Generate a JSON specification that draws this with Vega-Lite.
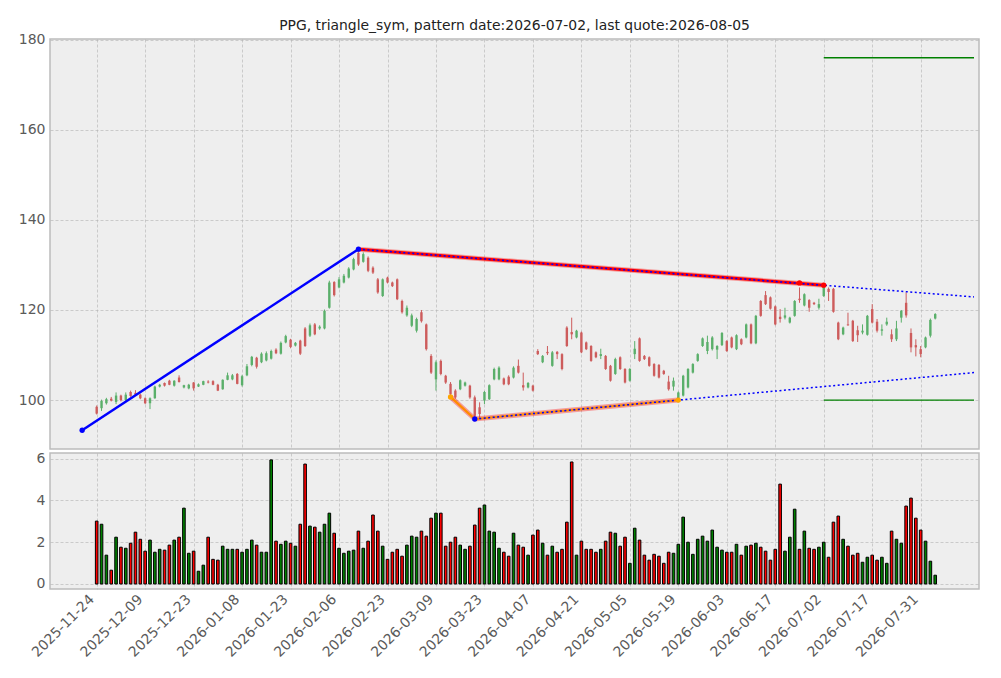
{
  "$schema": "https://vega.github.io/schema/vega-lite/v6.json",
  "background": "white",
  "padding": {"left": 17, "top": 18, "right": 15, "bottom": 5},
  "config": {
    "font": "DejaVu Sans",
    "view": {"fill": "#eeeeee", "stroke": "#bcbcbc", "strokeWidth": 1.5},
    "axis": {
      "labelFont": "DejaVu Sans",
      "labelFontSize": 14,
      "labelColor": "#5a5a5a",
      "ticks": false,
      "domain": false,
      "gridColor": "#b2b2b2",
      "gridDash": [3, 2],
      "gridWidth": 0.6,
      "labelPadding": 5,
      "labelFlush": false,
      "labelOverlap": false
    },
    "concat": {"spacing": 0}
  },
  "datasets": {
    "candles": [
      {"i":0,"open":98.5,"high":98.8,"low":96.8,"close":97.0,"volume":3.01},
      {"i":1,"open":98.2,"high":100.1,"low":97.6,"close":99.8,"volume":2.86},
      {"i":2,"open":99.3,"high":100.5,"low":99.0,"close":100.2,"volume":1.38},
      {"i":3,"open":100.3,"high":100.7,"low":99.7,"close":99.9,"volume":0.66},
      {"i":4,"open":99.6,"high":101.7,"low":99.1,"close":101.0,"volume":2.24},
      {"i":5,"open":101.0,"high":101.2,"low":99.7,"close":100.0,"volume":1.76},
      {"i":6,"open":100.0,"high":101.7,"low":99.8,"close":101.2,"volume":1.71},
      {"i":7,"open":101.8,"high":102.1,"low":100.7,"close":100.9,"volume":1.95},
      {"i":8,"open":101.6,"high":102.2,"low":101.0,"close":101.2,"volume":2.48},
      {"i":9,"open":101.2,"high":101.4,"low":100.2,"close":100.4,"volume":2.14},
      {"i":10,"open":100.4,"high":100.6,"low":99.1,"close":99.3,"volume":1.57},
      {"i":11,"open":99.3,"high":100.6,"low":98.0,"close":100.4,"volume":2.10},
      {"i":12,"open":100.4,"high":103.2,"low":100.3,"close":103.0,"volume":1.52},
      {"i":13,"open":103.0,"high":103.6,"low":102.8,"close":103.4,"volume":1.66},
      {"i":14,"open":103.8,"high":103.9,"low":103.0,"close":103.2,"volume":1.62},
      {"i":15,"open":104.3,"high":104.5,"low":103.3,"close":103.4,"volume":1.86},
      {"i":16,"open":103.2,"high":104.4,"low":103.0,"close":104.3,"volume":2.10},
      {"i":17,"open":105.0,"high":105.5,"low":103.9,"close":104.0,"volume":2.24},
      {"i":18,"open":102.8,"high":103.4,"low":102.6,"close":103.3,"volume":3.63},
      {"i":19,"open":102.6,"high":103.6,"low":102.4,"close":103.4,"volume":1.47},
      {"i":20,"open":103.9,"high":104.0,"low":102.1,"close":102.6,"volume":1.57},
      {"i":21,"open":103.0,"high":103.7,"low":102.9,"close":103.5,"volume":0.61},
      {"i":22,"open":103.4,"high":104.3,"low":103.3,"close":104.2,"volume":0.90},
      {"i":23,"open":104.1,"high":104.4,"low":103.7,"close":103.9,"volume":2.24},
      {"i":24,"open":104.2,"high":104.4,"low":103.3,"close":103.4,"volume":1.18},
      {"i":25,"open":103.4,"high":103.6,"low":102.0,"close":102.1,"volume":1.14},
      {"i":26,"open":102.4,"high":104.6,"low":102.3,"close":104.5,"volume":1.81},
      {"i":27,"open":104.5,"high":106.1,"low":104.4,"close":105.5,"volume":1.66},
      {"i":28,"open":104.6,"high":105.8,"low":104.4,"close":105.5,"volume":1.66},
      {"i":29,"open":105.8,"high":106.0,"low":103.5,"close":103.6,"volume":1.66},
      {"i":30,"open":103.3,"high":105.6,"low":103.0,"close":105.3,"volume":1.52},
      {"i":31,"open":105.5,"high":108.0,"low":105.3,"close":107.5,"volume":1.66},
      {"i":32,"open":107.8,"high":109.8,"low":107.5,"close":109.6,"volume":2.10},
      {"i":33,"open":109.4,"high":109.6,"low":107.0,"close":107.4,"volume":1.86},
      {"i":34,"open":108.4,"high":110.6,"low":108.2,"close":110.3,"volume":1.52},
      {"i":35,"open":108.8,"high":110.8,"low":108.6,"close":110.4,"volume":1.52},
      {"i":36,"open":109.2,"high":111.2,"low":109.0,"close":110.9,"volume":5.94},
      {"i":37,"open":111.2,"high":111.5,"low":110.2,"close":110.4,"volume":2.05},
      {"i":38,"open":110.3,"high":113.0,"low":110.1,"close":112.7,"volume":1.90},
      {"i":39,"open":112.8,"high":114.5,"low":112.6,"close":114.2,"volume":2.05},
      {"i":40,"open":113.4,"high":113.6,"low":111.5,"close":111.8,"volume":1.95},
      {"i":41,"open":112.1,"high":112.9,"low":111.9,"close":112.7,"volume":1.81},
      {"i":42,"open":113.2,"high":113.4,"low":110.0,"close":110.3,"volume":2.86},
      {"i":43,"open":115.9,"high":116.2,"low":111.8,"close":112.0,"volume":5.74},
      {"i":44,"open":114.3,"high":117.0,"low":114.0,"close":116.6,"volume":2.77},
      {"i":45,"open":116.8,"high":117.1,"low":114.4,"close":114.6,"volume":2.72},
      {"i":46,"open":115.9,"high":116.6,"low":115.6,"close":116.3,"volume":2.48},
      {"i":47,"open":115.9,"high":120.1,"low":115.7,"close":119.8,"volume":2.86},
      {"i":48,"open":120.5,"high":126.5,"low":120.3,"close":126.1,"volume":3.39},
      {"i":49,"open":126.2,"high":126.4,"low":123.0,"close":123.3,"volume":2.43},
      {"i":50,"open":125.0,"high":127.3,"low":124.8,"close":126.8,"volume":1.71},
      {"i":51,"open":126.1,"high":128.0,"low":125.9,"close":127.6,"volume":1.47},
      {"i":52,"open":127.2,"high":129.5,"low":127.0,"close":129.2,"volume":1.57},
      {"i":53,"open":129.0,"high":131.6,"low":128.8,"close":131.3,"volume":1.62},
      {"i":54,"open":132.7,"high":133.5,"low":129.8,"close":130.1,"volume":2.53},
      {"i":55,"open":130.7,"high":132.8,"low":130.5,"close":132.4,"volume":1.71},
      {"i":56,"open":131.6,"high":131.9,"low":128.4,"close":128.7,"volume":2.05},
      {"i":57,"open":129.4,"high":129.7,"low":128.0,"close":128.3,"volume":3.30},
      {"i":58,"open":126.8,"high":127.1,"low":123.6,"close":123.9,"volume":2.53},
      {"i":59,"open":123.1,"high":127.0,"low":122.9,"close":126.8,"volume":1.81},
      {"i":60,"open":127.2,"high":127.4,"low":125.9,"close":126.1,"volume":1.18},
      {"i":61,"open":126.1,"high":126.3,"low":125.1,"close":125.3,"volume":1.52},
      {"i":62,"open":126.8,"high":127.0,"low":122.2,"close":122.4,"volume":1.66},
      {"i":63,"open":122.0,"high":122.3,"low":119.2,"close":119.5,"volume":1.33},
      {"i":64,"open":118.8,"high":121.0,"low":118.5,"close":120.5,"volume":1.86},
      {"i":65,"open":116.5,"high":119.2,"low":116.2,"close":118.8,"volume":2.29},
      {"i":66,"open":115.4,"high":118.3,"low":115.0,"close":118.0,"volume":2.24},
      {"i":67,"open":119.5,"high":120.0,"low":117.2,"close":117.5,"volume":2.53},
      {"i":68,"open":116.8,"high":117.0,"low":111.0,"close":111.3,"volume":2.29},
      {"i":69,"open":109.8,"high":110.2,"low":105.8,"close":106.1,"volume":3.15},
      {"i":70,"open":104.6,"high":108.8,"low":102.1,"close":108.4,"volume":3.39},
      {"i":71,"open":108.7,"high":109.0,"low":105.5,"close":105.8,"volume":3.39},
      {"i":72,"open":105.4,"high":105.6,"low":103.6,"close":103.9,"volume":1.81},
      {"i":73,"open":103.6,"high":104.0,"low":101.0,"close":101.3,"volume":2.00},
      {"i":74,"open":102.1,"high":102.4,"low":100.3,"close":100.6,"volume":2.24},
      {"i":75,"open":102.4,"high":104.6,"low":102.2,"close":104.4,"volume":1.86},
      {"i":76,"open":103.2,"high":104.1,"low":103.0,"close":103.9,"volume":1.66},
      {"i":77,"open":103.2,"high":103.4,"low":100.3,"close":100.6,"volume":1.81},
      {"i":78,"open":100.6,"high":101.0,"low":95.8,"close":96.5,"volume":2.82},
      {"i":79,"open":98.4,"high":99.5,"low":95.9,"close":96.9,"volume":3.63},
      {"i":80,"open":99.9,"high":102.0,"low":99.1,"close":101.8,"volume":3.78},
      {"i":81,"open":100.2,"high":103.5,"low":100.0,"close":103.3,"volume":2.53},
      {"i":82,"open":104.6,"high":107.2,"low":104.4,"close":106.9,"volume":2.48},
      {"i":83,"open":104.6,"high":107.5,"low":104.4,"close":107.2,"volume":1.71},
      {"i":84,"open":104.8,"high":105.0,"low":103.3,"close":103.5,"volume":1.52},
      {"i":85,"open":105.2,"high":105.5,"low":103.3,"close":103.5,"volume":1.33},
      {"i":86,"open":105.0,"high":107.5,"low":104.8,"close":107.2,"volume":2.43},
      {"i":87,"open":107.6,"high":109.0,"low":105.9,"close":106.1,"volume":1.86},
      {"i":88,"open":103.3,"high":106.1,"low":102.1,"close":102.8,"volume":1.76},
      {"i":89,"open":102.8,"high":104.0,"low":102.6,"close":103.8,"volume":1.38},
      {"i":90,"open":103.2,"high":103.4,"low":101.9,"close":102.1,"volume":2.34},
      {"i":91,"open":110.9,"high":111.3,"low":110.0,"close":110.2,"volume":2.58},
      {"i":92,"open":108.4,"high":110.0,"low":108.2,"close":109.8,"volume":1.95},
      {"i":93,"open":110.7,"high":112.0,"low":110.0,"close":110.4,"volume":1.38},
      {"i":94,"open":107.6,"high":110.9,"low":107.4,"close":110.6,"volume":1.81},
      {"i":95,"open":110.7,"high":110.9,"low":109.1,"close":110.2,"volume":1.52},
      {"i":96,"open":110.2,"high":110.4,"low":106.6,"close":106.9,"volume":1.66},
      {"i":97,"open":116.1,"high":116.4,"low":111.8,"close":112.0,"volume":2.96},
      {"i":98,"open":115.1,"high":118.3,"low":113.5,"close":114.6,"volume":5.84},
      {"i":99,"open":113.9,"high":115.6,"low":113.7,"close":115.4,"volume":1.38},
      {"i":100,"open":115.0,"high":115.2,"low":110.4,"close":110.6,"volume":2.05},
      {"i":101,"open":112.8,"high":113.0,"low":111.1,"close":111.3,"volume":1.66},
      {"i":102,"open":112.0,"high":112.2,"low":108.5,"close":108.7,"volume":1.66},
      {"i":103,"open":110.6,"high":110.8,"low":109.3,"close":109.5,"volume":1.52},
      {"i":104,"open":109.8,"high":111.4,"low":109.1,"close":110.2,"volume":1.66},
      {"i":105,"open":109.8,"high":110.0,"low":106.7,"close":106.9,"volume":2.05},
      {"i":106,"open":107.6,"high":107.8,"low":104.1,"close":104.3,"volume":2.48},
      {"i":107,"open":105.8,"high":109.4,"low":105.6,"close":109.1,"volume":2.43},
      {"i":108,"open":109.5,"high":109.7,"low":106.7,"close":106.9,"volume":1.81},
      {"i":109,"open":106.9,"high":107.1,"low":103.7,"close":103.9,"volume":2.24},
      {"i":110,"open":104.3,"high":107.1,"low":104.1,"close":106.9,"volume":0.99},
      {"i":111,"open":110.2,"high":113.1,"low":109.1,"close":111.4,"volume":2.67},
      {"i":112,"open":113.7,"high":113.9,"low":108.5,"close":108.7,"volume":2.10},
      {"i":113,"open":109.8,"high":110.0,"low":108.9,"close":109.1,"volume":1.38},
      {"i":114,"open":109.5,"high":109.7,"low":107.4,"close":107.6,"volume":1.14},
      {"i":115,"open":108.0,"high":108.2,"low":105.2,"close":105.4,"volume":1.42},
      {"i":116,"open":107.8,"high":108.0,"low":104.8,"close":105.0,"volume":1.33},
      {"i":117,"open":106.5,"high":106.7,"low":105.6,"close":105.8,"volume":0.99},
      {"i":118,"open":104.1,"high":105.4,"low":102.1,"close":102.4,"volume":1.52},
      {"i":119,"open":103.0,"high":105.0,"low":102.1,"close":104.3,"volume":1.47},
      {"i":120,"open":100.2,"high":101.9,"low":99.9,"close":101.7,"volume":1.90},
      {"i":121,"open":101.0,"high":105.6,"low":100.8,"close":105.4,"volume":3.20},
      {"i":122,"open":102.8,"high":107.1,"low":102.6,"close":106.9,"volume":2.00},
      {"i":123,"open":106.1,"high":108.2,"low":105.9,"close":108.0,"volume":1.42},
      {"i":124,"open":108.7,"high":110.4,"low":108.5,"close":110.2,"volume":2.14},
      {"i":125,"open":112.0,"high":113.9,"low":111.8,"close":113.7,"volume":2.29},
      {"i":126,"open":110.9,"high":114.3,"low":110.2,"close":112.9,"volume":2.05},
      {"i":127,"open":111.3,"high":114.2,"low":111.0,"close":113.9,"volume":2.58},
      {"i":128,"open":111.2,"high":112.2,"low":109.1,"close":112.0,"volume":1.76},
      {"i":129,"open":112.2,"high":115.1,"low":112.0,"close":114.9,"volume":1.62},
      {"i":130,"open":113.1,"high":113.3,"low":110.7,"close":110.9,"volume":1.52},
      {"i":131,"open":113.9,"high":114.1,"low":111.5,"close":111.7,"volume":1.52},
      {"i":132,"open":111.3,"high":114.6,"low":111.1,"close":114.4,"volume":1.90},
      {"i":133,"open":113.5,"high":113.7,"low":112.2,"close":112.4,"volume":1.38},
      {"i":134,"open":113.9,"high":117.0,"low":113.7,"close":116.8,"volume":1.81},
      {"i":135,"open":116.8,"high":117.0,"low":112.4,"close":112.6,"volume":1.86},
      {"i":136,"open":112.6,"high":118.9,"low":112.4,"close":118.7,"volume":1.95},
      {"i":137,"open":122.0,"high":122.2,"low":118.5,"close":118.7,"volume":1.76},
      {"i":138,"open":123.3,"high":124.2,"low":121.1,"close":121.3,"volume":1.57},
      {"i":139,"open":122.8,"high":123.0,"low":120.1,"close":120.3,"volume":1.14},
      {"i":140,"open":120.8,"high":121.0,"low":116.6,"close":116.8,"volume":1.66},
      {"i":141,"open":118.5,"high":120.2,"low":117.2,"close":118.0,"volume":4.78},
      {"i":142,"open":118.3,"high":120.5,"low":117.9,"close":118.8,"volume":1.57},
      {"i":143,"open":117.2,"high":118.5,"low":117.0,"close":118.3,"volume":2.24},
      {"i":144,"open":118.7,"high":122.2,"low":118.5,"close":122.0,"volume":3.58},
      {"i":145,"open":122.5,"high":125.0,"low":121.6,"close":122.2,"volume":1.66},
      {"i":146,"open":121.0,"high":123.7,"low":120.8,"close":123.5,"volume":2.53},
      {"i":147,"open":122.2,"high":122.4,"low":119.6,"close":120.5,"volume":1.71},
      {"i":148,"open":121.6,"high":121.8,"low":121.1,"close":121.3,"volume":1.66},
      {"i":149,"open":120.5,"high":122.5,"low":120.1,"close":121.3,"volume":1.76},
      {"i":150,"open":123.1,"high":125.5,"low":122.9,"close":125.3,"volume":2.00},
      {"i":151,"open":124.7,"high":125.0,"low":122.0,"close":124.0,"volume":1.28},
      {"i":152,"open":124.7,"high":124.9,"low":119.4,"close":119.6,"volume":2.96},
      {"i":153,"open":117.2,"high":117.4,"low":113.3,"close":113.5,"volume":3.25},
      {"i":154,"open":114.6,"high":116.3,"low":114.4,"close":116.1,"volume":2.14},
      {"i":155,"open":116.8,"high":119.4,"low":116.5,"close":116.6,"volume":1.81},
      {"i":156,"open":117.6,"high":117.8,"low":112.9,"close":113.1,"volume":1.38},
      {"i":157,"open":115.5,"high":116.5,"low":112.9,"close":114.4,"volume":1.47},
      {"i":158,"open":115.0,"high":116.8,"low":114.6,"close":115.4,"volume":1.04},
      {"i":159,"open":114.5,"high":118.9,"low":114.3,"close":118.7,"volume":1.28},
      {"i":160,"open":120.2,"high":121.3,"low":117.0,"close":117.2,"volume":1.38},
      {"i":161,"open":117.4,"high":118.0,"low":115.0,"close":115.4,"volume":1.14},
      {"i":162,"open":115.4,"high":116.8,"low":114.3,"close":115.7,"volume":1.28},
      {"i":163,"open":116.8,"high":118.3,"low":116.5,"close":117.4,"volume":0.99},
      {"i":164,"open":114.6,"high":115.7,"low":112.9,"close":113.5,"volume":2.53},
      {"i":165,"open":113.5,"high":117.6,"low":113.1,"close":115.9,"volume":2.14},
      {"i":166,"open":118.3,"high":120.0,"low":117.2,"close":119.8,"volume":1.95},
      {"i":167,"open":121.6,"high":123.9,"low":118.3,"close":118.8,"volume":3.73},
      {"i":168,"open":114.9,"high":115.9,"low":110.6,"close":111.7,"volume":4.11},
      {"i":169,"open":112.2,"high":113.5,"low":109.7,"close":111.7,"volume":3.15},
      {"i":170,"open":111.3,"high":112.0,"low":109.5,"close":110.2,"volume":2.58},
      {"i":171,"open":111.7,"high":114.1,"low":111.5,"close":113.9,"volume":2.05},
      {"i":172,"open":114.3,"high":118.1,"low":113.9,"close":117.8,"volume":1.09},
      {"i":173,"open":118.1,"high":119.3,"low":117.9,"close":119.1,"volume":0.42}
    ],
    "lines": [
      {"seg":"up","i":-3,"p":93.3},
      {"seg":"up","i":54,"p":133.5},
      {"seg":"res","i":54,"p":133.5},
      {"seg":"res","i":150,"p":125.5},
      {"seg":"resx","i":54,"p":133.5},
      {"seg":"resx","i":181,"p":122.9},
      {"seg":"sup","i":73,"p":100.7},
      {"seg":"sup","i":78,"p":95.8},
      {"seg":"sup","i":120,"p":100.0},
      {"seg":"supx","i":78,"p":95.8},
      {"seg":"supx","i":181,"p":106.1},
      {"seg":"tgt_hi","i":150,"p":176.0},
      {"seg":"tgt_hi","i":181,"p":176.0},
      {"seg":"tgt_lo","i":150,"p":100.0},
      {"seg":"tgt_lo","i":181,"p":100.0}
    ],
    "points": [
      {"kind":"blue","i":-3,"p":93.3},
      {"kind":"blue","i":54,"p":133.5},
      {"kind":"blue","i":78,"p":95.8},
      {"kind":"orange","i":73,"p":100.7},
      {"kind":"orange","i":120,"p":100.0},
      {"kind":"red","i":145,"p":126.0},
      {"kind":"red","i":150,"p":125.5}
    ]
  },
  "vconcat": [
    {
      "width": 929,
      "height": 410,
      "title": {
        "text": "PPG, triangle_sym, pattern date:2026-07-02, last quote:2026-08-05",
        "frame": "group",
        "anchor": "middle",
        "fontSize": 13.9,
        "fontWeight": "normal",
        "font": "DejaVu Sans",
        "color": "#222222",
        "offset": 0
      },
      "layer": [
        {
          "data": {"name": "candles"},
          "mark": {"type": "rule", "strokeWidth": 1, "clip": true},
          "encoding": {
            "x": {"field": "i", "type": "quantitative", "title": null,
                  "scale": {"domain": [-8.6, 181], "nice": false, "zero": false},
                  "axis": {"values": [0,10,20,30,40,50,60,70,80,90,100,110,120,130,140,150,160,170], "labels": false, "grid": true}},
            "y": {"field": "low", "type": "quantitative", "title": null,
                  "scale": {"domain": [89.14, 180.16], "nice": false, "zero": false},
                  "axis": {"values": [100, 120, 140, 160, 180], "grid": true}},
            "y2": {"field": "high"},
            "color": {"condition": {"test": "datum.close >= datum.open", "value": "#5aaf6a"}, "value": "#cd5c5c"}
          }
        },
        {
          "data": {"name": "candles"},
          "mark": {"type": "bar", "size": 2.4, "clip": true},
          "encoding": {
            "x": {"field": "i", "type": "quantitative", "title": null, "scale": {"domain": [-8.6, 181], "nice": false, "zero": false}},
            "y": {"field": "open", "type": "quantitative", "title": null, "scale": {"domain": [89.14, 180.16], "nice": false, "zero": false}},
            "y2": {"field": "close"},
            "color": {"condition": {"test": "datum.close >= datum.open", "value": "#5aaf6a"}, "value": "#cd5c5c"}
          }
        },
        {
          "data": {"name": "lines"},
          "transform": [{"filter": "datum.seg == 'tgt_hi' || datum.seg == 'tgt_lo'"}],
          "mark": {"type": "line", "color": "#008000", "strokeWidth": 1.3, "clip": true},
          "encoding": {
            "x": {"field": "i", "type": "quantitative", "title": null, "scale": {"domain": [-8.6, 181], "nice": false, "zero": false}},
            "y": {"field": "p", "type": "quantitative", "title": null, "scale": {"domain": [89.14, 180.16], "nice": false, "zero": false}},
            "detail": {"field": "seg"}
          }
        },
        {
          "data": {"name": "lines"},
          "transform": [{"filter": "datum.seg == 'up'"}],
          "mark": {"type": "line", "color": "#0000ff", "strokeWidth": 2.5, "clip": true},
          "encoding": {
            "x": {"field": "i", "type": "quantitative", "title": null, "scale": {"domain": [-8.6, 181], "nice": false, "zero": false}},
            "y": {"field": "p", "type": "quantitative", "title": null, "scale": {"domain": [89.14, 180.16], "nice": false, "zero": false}}
          }
        },
        {
          "data": {"name": "lines"},
          "transform": [{"filter": "datum.seg == 'res' || datum.seg == 'sup'"}],
          "mark": {"type": "line", "color": "#ff0000", "strokeWidth": 5, "opacity": 0.35, "clip": true},
          "encoding": {
            "x": {"field": "i", "type": "quantitative", "title": null, "scale": {"domain": [-8.6, 181], "nice": false, "zero": false}},
            "y": {"field": "p", "type": "quantitative", "title": null, "scale": {"domain": [89.14, 180.16], "nice": false, "zero": false}},
            "detail": {"field": "seg"}
          }
        },
        {
          "data": {"name": "lines"},
          "transform": [{"filter": "datum.seg == 'res'"}],
          "mark": {"type": "line", "color": "#ff0000", "strokeWidth": 3, "clip": true},
          "encoding": {
            "x": {"field": "i", "type": "quantitative", "title": null, "scale": {"domain": [-8.6, 181], "nice": false, "zero": false}},
            "y": {"field": "p", "type": "quantitative", "title": null, "scale": {"domain": [89.14, 180.16], "nice": false, "zero": false}}
          }
        },
        {
          "data": {"name": "lines"},
          "transform": [{"filter": "datum.seg == 'sup'"}],
          "mark": {"type": "line", "color": "#ff8c00", "strokeWidth": 2.2, "clip": true},
          "encoding": {
            "x": {"field": "i", "type": "quantitative", "title": null, "scale": {"domain": [-8.6, 181], "nice": false, "zero": false}},
            "y": {"field": "p", "type": "quantitative", "title": null, "scale": {"domain": [89.14, 180.16], "nice": false, "zero": false}}
          }
        },
        {
          "data": {"name": "lines"},
          "transform": [{"filter": "datum.seg == 'resx' || datum.seg == 'supx'"}],
          "mark": {"type": "line", "color": "#0000ff", "strokeWidth": 1.5, "strokeDash": [2, 2.5], "clip": true},
          "encoding": {
            "x": {"field": "i", "type": "quantitative", "title": null, "scale": {"domain": [-8.6, 181], "nice": false, "zero": false}},
            "y": {"field": "p", "type": "quantitative", "title": null, "scale": {"domain": [89.14, 180.16], "nice": false, "zero": false}},
            "detail": {"field": "seg"}
          }
        },
        {
          "data": {"name": "points"},
          "mark": {"type": "circle", "size": 28, "opacity": 1, "clip": true},
          "encoding": {
            "x": {"field": "i", "type": "quantitative", "title": null, "scale": {"domain": [-8.6, 181], "nice": false, "zero": false}},
            "y": {"field": "p", "type": "quantitative", "title": null, "scale": {"domain": [89.14, 180.16], "nice": false, "zero": false}},
            "color": {"field": "kind", "type": "nominal", "legend": null,
                      "scale": {"domain": ["blue", "orange", "red"], "range": ["#0000ff", "#ffa500", "#ff0000"]}}
          }
        }
      ]
    },
    {
      "width": 929,
      "height": 136,
      "data": {"name": "candles"},
      "mark": {"type": "bar", "size": 2.6, "stroke": "black", "strokeWidth": 1, "clip": true},
      "encoding": {
        "x": {"field": "i", "type": "quantitative", "title": null,
              "scale": {"domain": [-8.6, 181], "nice": false, "zero": false},
              "axis": {"values": [0,10,20,30,40,50,60,70,80,90,100,110,120,130,140,150,160,170], "grid": true,
                       "labelAngle": -45, "labelAlign": "right", "labelBaseline": "top", "labelPadding": 3, "labelOffset": -10,
                       "labelExpr": "['2025-11-24','2025-12-09','2025-12-23','2026-01-08','2026-01-23','2026-02-06','2026-02-23','2026-03-09','2026-03-23','2026-04-07','2026-04-21','2026-05-05','2026-05-19','2026-06-03','2026-06-17','2026-07-02','2026-07-17','2026-07-31'][round(datum.value / 10)]"}},
        "y": {"field": "volume", "type": "quantitative", "title": null,
              "scale": {"domain": [-0.24, 6.27], "nice": false, "zero": false},
              "axis": {"values": [0, 2, 4, 6], "grid": true}},
        "y2": {"datum": 0},
        "color": {"condition": {"test": "datum.close >= datum.open", "value": "#008000"}, "value": "#ff0000"}
      }
    }
  ]
}
